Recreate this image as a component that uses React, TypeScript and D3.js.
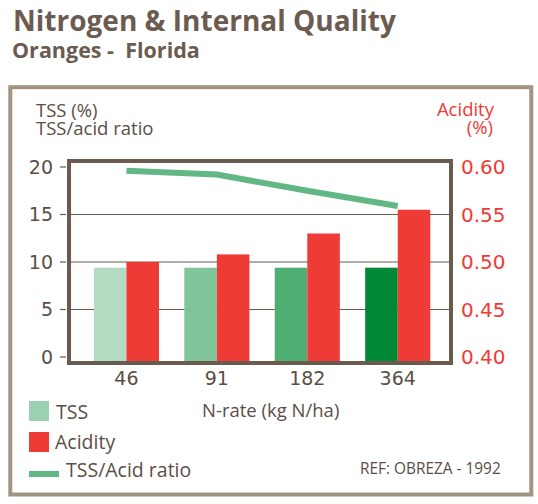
import React from 'react';
import { scaleBand, scaleLinear, line } from 'd3';

// N-rate categories (kg N/ha)
const rates = ['46', '91', '182', '364'];
const tssValues = [9.4, 9.4, 9.4, 9.4];
const acidityValues = [0.5, 0.508, 0.53, 0.555];
const ratioValues = [19.6, 19.2, 17.5, 15.9];
const leftTicks = [0, 5, 10, 15, 20];
const rightTicks = [0.4, 0.45, 0.5, 0.55, 0.6];
const gridTicks = [5, 10, 15];
const tssColors = ['#b3dbc2', '#80c49a', '#4fae74', '#008837'];

const RED = '#ef3b36';
const BROWN = '#6b5b4f';
const TEXT = '#5c4e45';
const SANS = '"Open Sans", "Noto Sans", sans-serif';
const NUM = '"DejaVu Sans", sans-serif';

export default function App() {
    const width = 538;
    const height = 504;
    // plot frame (stroke centre lines)
    const frame = { left: 69, right: 451, top: 161, bottom: 363 };

    const x = scaleBand()
        .domain(rates)
        .range([frame.left + 2, frame.right - 2])
        .paddingInner(0.28)
        .paddingOuter(0.23)
        .align(0.55);
    const sub = scaleBand().domain(['tss', 'acidity']).range([0, x.bandwidth()]);

    const yLeft = scaleLinear().domain([0, 20]).range([357, 167]);
    const yRight = scaleLinear().domain([0.4, 0.6]).range([357, 167]);

    const ratioLine = line<number>()
        .x((_, i) => (x(rates[i]) as number) + x.bandwidth() / 2)
        .y((d) => yLeft(d));

    return (
        <div style={{ position: 'absolute', left: 0, top: 0 }}>
            <svg width={width} height={height} style={{ display: 'block', background: '#fff' }}>
                {/* titles */}
                <text x={13} y={31} fontFamily={SANS} fontWeight={700} fontSize={28} fill="#6b5b50">
                    Nitrogen &amp; Internal Quality
                </text>
                <text x={12} y={58} fontFamily={SANS} fontWeight={700} fontSize={21.5} fill="#6b5b50" style={{ whiteSpace: 'pre' }}>
                    {'Oranges -  Florida'}
                </text>

                {/* outer box */}
                <rect x={10.3} y={87.2} width={521} height={407.3} fill="none" stroke="#a29383" strokeWidth={4} />

                {/* axis titles */}
                <g fontFamily={SANS} fontSize={18.5}>
                    <text x={36} y={117} fill={TEXT}>TSS (%)</text>
                    <text x={36} y={135} fill={TEXT}>TSS/acid ratio</text>
                    <text x={494} y={116} fill={RED} textAnchor="end">Acidity</text>
                    <text x={493} y={133.5} fill={RED} textAnchor="end">(%)</text>
                </g>

                {/* grid */}
                {gridTicks.map((t) => (
                    <line key={t} x1={frame.left} x2={frame.right} y1={yLeft(t)} y2={yLeft(t)} stroke={BROWN} strokeWidth={1.2} />
                ))}

                {/* bars */}
                {rates.map((r, i) => (
                    <g key={r} transform={`translate(${x(r)},0)`}>
                        <rect
                            x={sub('tss')}
                            y={yLeft(tssValues[i])}
                            width={sub.bandwidth()}
                            height={frame.bottom - yLeft(tssValues[i])}
                            fill={tssColors[i]}
                        />
                        <rect
                            x={sub('acidity')}
                            y={yRight(acidityValues[i])}
                            width={sub.bandwidth()}
                            height={frame.bottom - yRight(acidityValues[i])}
                            fill={RED}
                        />
                    </g>
                ))}

                {/* ratio line */}
                <path d={ratioLine(ratioValues) || ''} fill="none" stroke="#62b884" strokeWidth={6} />

                {/* frame */}
                <rect
                    x={frame.left}
                    y={frame.top}
                    width={frame.right - frame.left}
                    height={frame.bottom - frame.top}
                    fill="none"
                    stroke={BROWN}
                    strokeWidth={4}
                />

                {/* left axis */}
                {leftTicks.map((t) => (
                    <g key={t}>
                        <line x1={60} x2={66} y1={yLeft(t)} y2={yLeft(t)} stroke={BROWN} strokeWidth={1.2} />
                        <text x={53} y={yLeft(t)} dy="0.36em" textAnchor="end" fontFamily={NUM} fontSize={19} fill={TEXT}>
                            {t}
                        </text>
                    </g>
                ))}

                {/* right axis */}
                {rightTicks.map((t) => (
                    <text key={t} x={461} y={yRight(t)} dy="0.36em" fontFamily={NUM} fontSize={20} fill={RED}>
                        {t.toFixed(2)}
                    </text>
                ))}

                {/* x axis labels */}
                {rates.map((r) => (
                    <text
                        key={r}
                        x={(x(r) as number) + x.bandwidth() / 2}
                        y={385}
                        textAnchor="middle"
                        fontFamily={NUM}
                        fontSize={19}
                        fill={TEXT}
                    >
                        {r}
                    </text>
                ))}
                <text x={202} y={417} fontFamily={SANS} fontSize={18.5} fill={TEXT}>
                    N-rate (kg N/ha)
                </text>

                {/* legend */}
                <g fontFamily={SANS} fontSize={19.5} fill={TEXT}>
                    <rect x={29} y={401} width={20} height={20} fill="#9bd1b0" />
                    <text x={56} y={419}>TSS</text>
                    <rect x={29} y={432} width={20} height={20} fill={RED} />
                    <text x={55} y={448.5}>Acidity</text>
                    <rect x={29} y={471} width={30} height={6} fill="#62b884" />
                    <text x={66} y={476.5}>TSS/Acid ratio</text>
                </g>

                <text x={360} y={474} fontFamily={SANS} fontSize={15.4} fill={TEXT}>
                    REF: OBREZA - 1992
                </text>
            </svg>
        </div>
    );
}
